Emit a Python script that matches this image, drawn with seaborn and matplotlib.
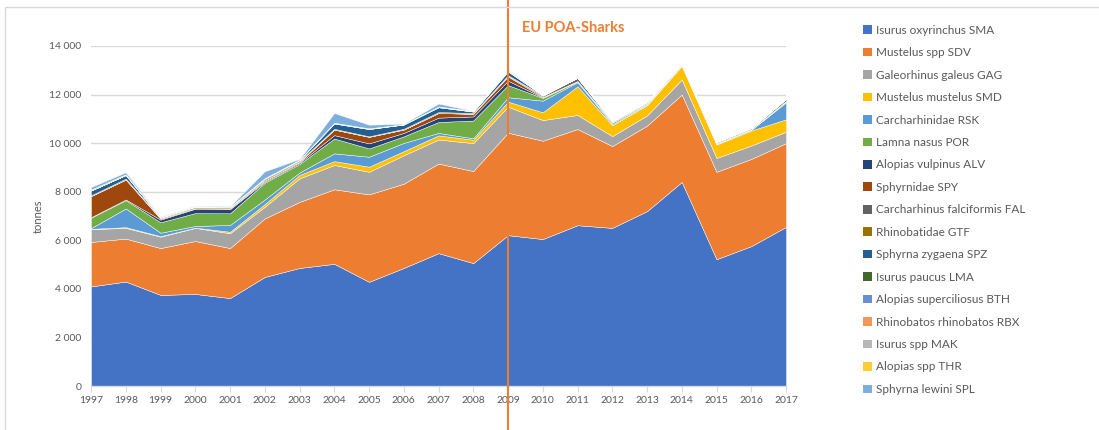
import numpy as np
import pandas as pd
import matplotlib
matplotlib.use("Agg")
import matplotlib.pyplot as plt
import seaborn as sns
from matplotlib.patches import Patch, Rectangle
from matplotlib.ticker import FuncFormatter, MultipleLocator

years = list(range(1997, 2018))

species = [
    "Isurus oxyrinchus SMA", "Mustelus spp SDV", "Galeorhinus galeus GAG",
    "Mustelus mustelus SMD", "Carcharhinidae RSK", "Lamna nasus POR",
    "Alopias vulpinus ALV", "Sphyrnidae SPY", "Carcharhinus falciformis FAL",
    "Rhinobatidae GTF", "Sphyrna zygaena SPZ", "Isurus paucus LMA",
    "Alopias superciliosus BTH", "Rhinobatos rhinobatos RBX", "Isurus spp MAK",
    "Alopias spp THR", "Sphyrna lewini SPL",
]

SMA = [4100, 4300, 3750, 3790, 3620, 4490, 4860, 5030, 4290, 4860, 5470, 5060, 6210, 6050, 6620, 6510, 7200, 8400, 5220, 5760, 6550]
SDV = [1830, 1770, 1930, 2180, 2060, 2410, 2720, 3070, 3600, 3470, 3690, 3790, 4220, 4050, 3960, 3370, 3520, 3600, 3600, 3590, 3450]
GAG = [530, 440, 470, 540, 610, 480, 970, 1000, 930, 1170, 990, 1150, 1070, 850, 580, 410, 420, 620, 570, 550, 470]
SMD = [10, 30, 20, 10, 60, 110, 140, 160, 210, 170, 170, 140, 210, 320, 1180, 450, 420, 560, 550, 620, 510]
RSK = [30, 770, 140, 70, 280, 190, 100, 320, 410, 340, 100, 60, 180, 480, 170, 40, 20, 20, 20, 30, 700]
POR = [430, 340, 430, 530, 480, 690, 350, 610, 340, 270, 450, 730, 500, 110, 30, 60, 40, 20, 20, 10, 40]
ALV = [20, 30, 110, 180, 170, 40, 50, 140, 210, 140, 180, 170, 180, 20, 10, 10, 0, 0, 0, 0, 0]
SPY = [870, 820, 40, 20, 30, 50, 40, 230, 270, 140, 190, 110, 170, 20, 10, 0, 0, 0, 0, 0, 0]
FAL = [0, 0, 0, 0, 0, 0, 0, 0, 0, 0, 0, 0, 30, 50, 130, 30, 30, 20, 30, 20, 20]
GTF = [30, 40, 30, 40, 40, 50, 40, 30, 20, 30, 40, 30, 30, 10, 0, 0, 0, 0, 0, 0, 0]
SPZ = [200, 150, 20, 30, 20, 40, 40, 220, 300, 180, 200, 60, 150, 10, 0, 0, 0, 0, 0, 0, 0]
LMA = [0, 0, 0, 0, 0, 0, 0, 0, 0, 0, 0, 0, 10, 10, 10, 30, 40, 40, 40, 40, 80]
BTH = [0, 0, 0, 0, 0, 0, 0, 20, 20, 0, 20, 20, 20, 0, 0, 0, 0, 0, 0, 0, 0]
RBX = [0, 0, 0, 0, 0, 0, 0, 0, 0, 0, 0, 0, 0, 0, 0, 0, 0, 0, 0, 0, 0]
MAK = [0, 0, 0, 0, 0, 0, 0, 0, 0, 0, 0, 0, 0, 0, 0, 0, 0, 0, 0, 0, 0]
THR = [40, 30, 20, 10, 10, 10, 10, 10, 10, 10, 10, 10, 40, 0, 0, 0, 0, 0, 0, 0, 0]
SPL = [100, 80, 20, 20, 20, 280, 30, 400, 150, 20, 120, 0, 20, 0, 0, 0, 0, 0, 0, 0, 0]

series = [SMA, SDV, GAG, SMD, RSK, POR, ALV, SPY, FAL, GTF, SPZ, LMA, BTH, RBX, MAK, THR, SPL]

colors = ["#4472C4", "#ED7D31", "#A5A5A5", "#FFC000", "#5B9BD5", "#70AD47",
          "#264478", "#9E480E", "#636363", "#997300", "#255E91", "#43682B",
          "#698ED0", "#F1975A", "#B7B7B7", "#FFCD33", "#7CAFDD"]

sns.set_theme(style="white")
plt.rcParams["font.family"] = ["Lato", "DejaVu Sans"]

df = pd.DataFrame({name: vals for name, vals in zip(species, series)}, index=years)

W, H = 1099, 430
fig = plt.figure(figsize=(W / 100, H / 100), dpi=100)
ax = fig.add_axes([91 / W, 1 - 386 / H, (786 - 91) / W, (386 - 46) / H])

ax.stackplot(df.index, [df[c].values for c in species], colors=colors,
             edgecolor="white", linewidth=0.3, zorder=2)

ax.set_xlim(1997, 2017)
ax.set_ylim(0, 14000)
ax.yaxis.set_major_locator(MultipleLocator(2000))
ax.yaxis.set_major_formatter(FuncFormatter(lambda v, p: f"{int(v):,}".replace(",", " ")))
ax.set_xticks(years)
ax.set_xticklabels([str(y) for y in years])
ax.grid(axis="y", color="#D9D9D9", linewidth=1, zorder=0)
ax.set_axisbelow(True)
for s in ["top", "right", "left"]:
    ax.spines[s].set_visible(False)
ax.spines["bottom"].set_color("#D9D9D9")
ax.spines["bottom"].set_linewidth(1)
ax.tick_params(axis="x", colors="#595959", labelsize=7.5, length=4, width=0.8,
               direction="out", bottom=True, pad=3)
ax.tick_params(axis="x", color="#D9D9D9")
ax.tick_params(axis="y", colors="#595959", labelsize=7.5, length=0, pad=7)
ax.set_ylabel("tonnes", color="#595959", fontsize=8, labelpad=4)

ax.axvline(2009, ymin=(386 - 432) / 340, ymax=(386 - 0) / 340, color="#ED7D31",
           linewidth=1.5, clip_on=False, zorder=5)
ax.text(2009.4, (386 - 28) / 340, "EU POA-Sharks", transform=ax.get_xaxis_transform(),
        color="#ED7D31", fontsize=10.5, fontweight="bold", va="center", ha="left")

handles = [Patch(facecolor=c, edgecolor="none") for c in colors]
fig.legend(handles, species, loc="upper left", bbox_to_anchor=(858 / W, 1 - 20 / H),
           frameon=False, fontsize=8.5, labelcolor="#595959", handlelength=0.75,
           handleheight=0.75, handletextpad=0.4, labelspacing=0.97, borderaxespad=0)

fig.patches.append(Rectangle((5 / W, -0.1), 1.2, 1 - 7 / H + 0.1, transform=fig.transFigure,
                             fill=False, edgecolor="#D9D9D9", linewidth=1))

fig.savefig("out.png", dpi=100, facecolor="white")
